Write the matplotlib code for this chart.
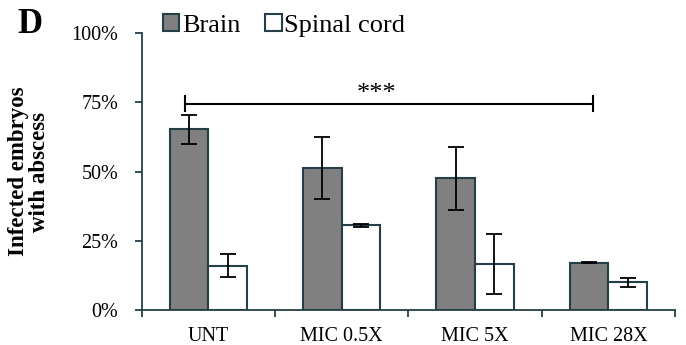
import matplotlib.pyplot as plt
import numpy as np

plt.rcParams['font.family'] = ['Liberation Serif', 'DejaVu Serif']

groups = ["UNT", "MIC 0.5X", "MIC 5X", "MIC 28X"]
brain = [65.2, 51.2, 47.5, 17.1]
brain_err = [5.3, 11.2, 11.2, 0.3]
spinal = [16.0, 30.6, 16.6, 10.0]
spinal_err = [4.1, 0.5, 10.7, 1.7]
yticks = [0, 25, 50, 75, 100]

edge = "#243f48"
x = np.arange(len(groups))
w = 0.29

fig = plt.figure(figsize=(6.86, 3.45), dpi=100)
ax = fig.add_axes([0.2066, 0.1014, 0.7774, 0.8026])

ax.bar(x - w / 2, brain, w, color="#808080", edgecolor=edge, linewidth=1.5,
       label="Brain", zorder=2)
ax.bar(x + w / 2, spinal, w, color="white", edgecolor=edge, linewidth=1.5,
       label="Spinal cord", zorder=2)
ax.errorbar(x - w / 2, brain, yerr=brain_err, fmt="none", ecolor="black",
            elinewidth=1.3, capsize=6, capthick=1.3, zorder=3)
ax.errorbar(x + w / 2, spinal, yerr=spinal_err, fmt="none", ecolor="black",
            elinewidth=1.3, capsize=6, capthick=1.3, zorder=3)

# significance bracket UNT vs MIC 28X
bx0, bx1, by = x[0] - w / 2 - 0.03, x[3] - w / 2 + 0.03, 74.5
ax.plot([bx0, bx1], [by, by], color="black", lw=1.5)
ax.plot([bx0, bx0], [by - 2.7, by + 2.7], color="black", lw=1.5)
ax.plot([bx1, bx1], [by - 2.7, by + 2.7], color="black", lw=1.5)
ax.text((bx0 + bx1) / 2 - 0.09, by - 0.6, "***", ha="center", va="bottom", fontsize=19)

ax.set_xlim(-0.5, 3.5)
ax.set_ylim(0, 100)
ax.set_yticks(yticks)
ax.set_yticklabels([f"{v}%" for v in yticks])
ax.set_xticks(np.arange(-0.5, 4, 1))
ax.set_xticklabels([])
ax.set_xticks(x, minor=True)
ax.set_xticklabels(groups, minor=True)
ax.tick_params(axis="x", which="major", length=5, width=1.3, color=edge, direction="out")
ax.tick_params(axis="x", which="minor", length=0, pad=12, labelsize=14.5)
ax.tick_params(axis="y", length=5, width=1.3, color=edge, pad=12, labelsize=14.5)
for s in ["top", "right"]:
    ax.spines[s].set_visible(False)
for s in ["left", "bottom"]:
    ax.spines[s].set_color(edge)
    ax.spines[s].set_linewidth(1.3)

ax.set_ylabel("Infected embryos\nwith abscess", fontsize=16.5, fontweight="bold",
              labelpad=15, linespacing=1.05)

fig.legend(loc="upper left", bbox_to_anchor=(0.222, 0.99), ncol=2, frameon=False,
           fontsize=19, handlelength=0.62, handleheight=0.62, handletextpad=0.1,
           columnspacing=0.95, borderaxespad=0)
fig.text(0.026, 0.93, "D", fontsize=25, fontweight="bold", va="center")

fig.savefig("out.png", dpi=100)
